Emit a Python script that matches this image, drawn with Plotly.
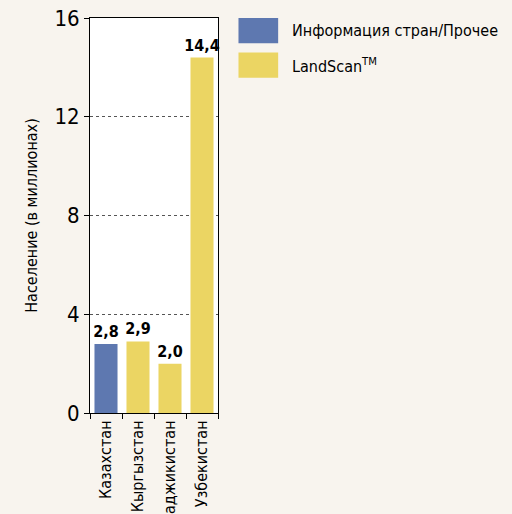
import plotly.graph_objects as go

countries = ["Казахстан", "Кыргызстан", "Таджикистан", "Узбекистан"]
population = [2.8, 2.9, 2.0, 14.4]
source = ["Информация стран/Прочее", "LandScan", "LandScan", "LandScan"]

legend_names = ["Информация стран/Прочее", "LandScan<sup>TM</sup>"]
colors = {"Информация стран/Прочее": "#5e78b0", "LandScan": "#ebd563"}

font_name = "DejaVu Sans Condensed, DejaVu Sans"
bg = "#f8f4ee"

fig = go.Figure()
for src in ["Информация стран/Прочее", "LandScan"]:
    xs = [c for c, s in zip(countries, source) if s == src]
    ys = [p for p, s in zip(population, source) if s == src]
    fig.add_trace(go.Bar(
        x=xs, y=ys, name=src,
        marker_color=colors[src], marker_line_width=0,
        text=[f"<b>{v:.1f}</b>".replace(".", ",") for v in ys],
        textposition="outside", cliponaxis=False, constraintext="none",
        textfont=dict(size=16, color="black", family=font_name),
        showlegend=False, hoverinfo="skip",
    ))

# custom legend with big swatches
for i, (name, src) in enumerate(zip(legend_names, ["Информация стран/Прочее", "LandScan"])):
    y0 = 1 - i * 0.0875
    fig.add_shape(type="rect", xref="paper", yref="paper",
                  x0=1.16, x1=1.47, y0=y0 - 0.064, y1=y0,
                  fillcolor=colors[src], line_width=0)
    fig.add_annotation(xref="paper", yref="paper", x=1.56, y=y0 - 0.032,
                       text=name, showarrow=False, xanchor="left", yanchor="middle",
                       font=dict(size=16, color="black", family=font_name))

fig.update_layout(
    width=512, height=514,
    margin=dict(l=90, r=294, t=18, b=101),
    paper_bgcolor=bg, plot_bgcolor="white",
    barmode="overlay", bargap=0.28,
    font=dict(family=font_name, color="black"),
    separators=", ",
)
fig.update_xaxes(
    categoryorder="array", categoryarray=countries, automargin=False,
    range=[-0.5, 3.5], tickangle=-90, tickson="boundaries",
    ticks="outside", ticklen=5, tickcolor="black",
    showline=True, linecolor="black", linewidth=1, mirror=True,
    tickfont=dict(size=16), showgrid=False,
)
fig.update_yaxes(
    range=[0, 16], tickvals=[0, 4, 8, 12, 16], automargin=False,
    ticks="outside", ticklen=5, tickcolor="black",
    showline=True, linecolor="black", linewidth=1, mirror=True,
    showgrid=True, gridcolor="#555555", griddash="dot", gridwidth=1,
    tickfont=dict(size=22), zeroline=False,
    title=dict(text="Население (в миллионах)", font=dict(size=16), standoff=12),
)

fig.write_html("out.html", config={"displayModeBar": False}, post_script=(
    "document.body.style.margin='0';"
    "document.body.style.overflow='hidden';"
    f"document.body.style.background='{bg}';"
))
